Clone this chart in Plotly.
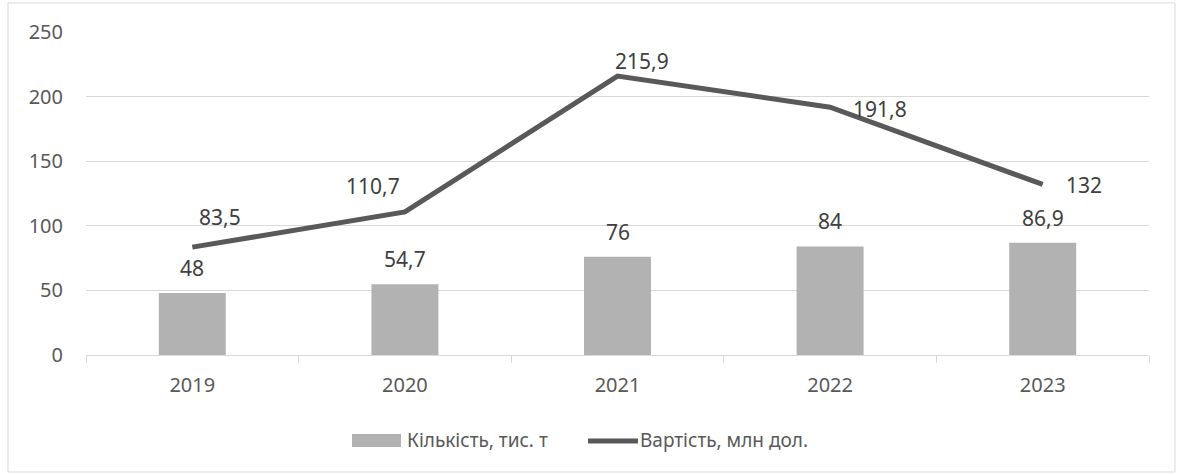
import plotly.graph_objects as go

years = ["2019", "2020", "2021", "2022", "2023"]
quantity = [48, 54.7, 76, 84, 86.9]          # Кількість, тис. т
value = [83.5, 110.7, 215.9, 191.8, 132]     # Вартість, млн дол.
quantity_labels = ["48", "54,7", "76", "84", "86,9"]
value_labels = ["83,5", "110,7", "215,9", "191,8", "132"]
series_names = ["Кількість, тис. т", "Вартість, млн дол."]
y_ticks = [0, 50, 100, 150, 200, 250]

W, H = 1183, 475
L, R, T, B = 86, 34, 32, 120
pw, ph = W - L - R, H - T - B

FONT = "Noto Sans"
TEXT = "#404040"
TICK = "#595959"
BAR_C = "#b2b2b2"
LINE_C = "#595959"


def px(x):
    return (x - L) / pw


def py(y):
    return (H - B - y) / ph


fig = go.Figure()
fig.add_trace(go.Bar(
    x=years, y=quantity, name=series_names[0],
    marker=dict(color=BAR_C, line=dict(width=0)),
))
fig.add_trace(go.Scatter(
    x=years, y=value, name=series_names[1], mode="lines",
    line=dict(color=LINE_C, width=5),
))

# label offsets (pixels) for the line labels
line_shift = [(28, 30), (-32, 26), (24, 15), (50, -2), (41, -1)]
for i, (yv, lab, (dx, dy)) in enumerate(zip(value, value_labels, line_shift)):
    fig.add_annotation(x=i, y=yv, text=lab, showarrow=False, xshift=dx, yshift=dy,
                       xanchor="center", yanchor="middle",
                       font=dict(family=FONT, size=21, color=TEXT))
for i, (yv, lab) in enumerate(zip(quantity, quantity_labels)):
    fig.add_annotation(x=i, y=yv, text=lab, showarrow=False, yshift=25,
                       xanchor="center", yanchor="middle",
                       font=dict(family=FONT, size=21, color=TEXT))

# chart border
fig.add_shape(type="rect", xref="paper", yref="paper",
              x0=px(8), x1=px(1175), y0=py(472), y1=py(3),
              line=dict(color="#d9d9d9", width=1), fillcolor="rgba(0,0,0,0)", layer="below")

# legend (drawn manually to match the reference layout)
fig.add_shape(type="rect", xref="paper", yref="paper",
              x0=px(352), x1=px(401), y0=py(447), y1=py(434),
              line=dict(width=0), fillcolor=BAR_C)
fig.add_annotation(xref="paper", yref="paper", x=px(405), y=py(440), text=series_names[0],
                   showarrow=False, xanchor="left", yanchor="middle",
                   font=dict(family=FONT, size=19, color=TICK))
fig.add_shape(type="line", xref="paper", yref="paper",
              x0=px(588), x1=px(638), y0=py(441), y1=py(441),
              line=dict(color=LINE_C, width=5))
fig.add_annotation(xref="paper", yref="paper", x=px(638), y=py(440), text=series_names[1],
                   showarrow=False, xanchor="left", yanchor="middle",
                   font=dict(family=FONT, size=19, color=TICK))

fig.update_layout(
    width=W, height=H,
    margin=dict(l=L, r=R, t=T, b=B),
    paper_bgcolor="white", plot_bgcolor="white",
    bargap=0.685,
    font=dict(family=FONT, size=20, color=TICK),
    showlegend=False,
    xaxis=dict(type="category", range=[-0.5, len(years) - 0.5], showgrid=False,
               showline=True, linecolor="#d9d9d9", linewidth=1,
               ticks="outside", tickson="boundaries", ticklen=7, tickcolor="#d9d9d9",
               tickangle=0, ticklabelstandoff=12,
               tickfont=dict(family=FONT, size=20, color=TICK)),
    yaxis=dict(range=[0, 250], tickvals=y_ticks, showgrid=True, gridcolor="#d9d9d9", gridwidth=1,
               zeroline=False, showline=False, ticks="", ticklabelstandoff=22,
               tickfont=dict(family=FONT, size=20, color=TICK)),
)

fig.write_html("out.html", config={"displayModeBar": False},
               post_script="document.body.style.margin='0';")
